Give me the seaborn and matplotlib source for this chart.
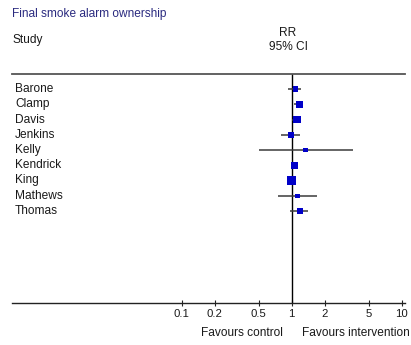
import matplotlib
matplotlib.use("Agg")
import matplotlib.pyplot as plt
import numpy as np
import pandas as pd
import seaborn as sns

# Study-level risk ratios for final smoke alarm ownership
studies = ["Barone", "Clamp", "Davis", "Jenkins", "Kelly",
           "Kendrick", "King", "Mathews", "Thomas"]
rr = [1.08, 1.17, 1.11, 0.99, 1.33, 1.06, 1.00, 1.13, 1.19]
ci_low = [0.92, 1.06, 1.00, 0.80, 0.50, 1.00, 0.97, 0.75, 0.97]
ci_high = [1.22, 1.26, 1.22, 1.20, 3.59, 1.12, 1.04, 1.70, 1.42]
weights = [8.6, 12.3, 16.8, 8.6, 5.5, 12.3, 21.9, 5.5, 8.6]

tick_values = [0.1, 0.2, 0.5, 1, 2, 5, 10]
tick_labels = ["0.1", "0.2", "0.5", "1", "2", "5", "10"]

df = pd.DataFrame({"study": studies, "rr": rr, "lo": ci_low,
                   "hi": ci_high, "weight": weights})
df["row"] = np.arange(len(df))

sns.set_theme(style="white")
plt.rcParams["font.family"] = ["Liberation Sans", "DejaVu Sans"]

FS = 8.6
TXT = "#1a1a1a"

W, H = 411, 345
fig = plt.figure(figsize=(W / 100, H / 100), dpi=100)
fig.patch.set_facecolor("white")

# forest panel: spans from the header rule down to the scale line
left_px, right_px = 12, 405
top_px, bottom_px = 73.7, 302.7
ax = fig.add_axes([left_px / W, (H - bottom_px) / H,
                   (right_px - left_px) / W, (bottom_px - top_px) / H])
ax.set_xscale("log")
decade = 110.0
x_one = 291.7
ax.set_xlim(10 ** ((left_px - x_one) / decade), 10 ** ((right_px - x_one) / decade))
row0, step = 89.0, 15.25
ax.set_ylim((bottom_px - row0) / step, -(row0 - top_px) / step)

# confidence intervals
ax.hlines(df["row"], df["lo"], df["hi"], color="#3a3a3a", lw=1.1, zorder=2)

# point estimates as squares with area proportional to weight
k = 1.85
sns.scatterplot(data=df, x="rr", y="row", size="weight", marker="s",
                sizes=(0, max(weights) * k), size_norm=(0, max(weights)),
                color="#0000c8", edgecolor="none", linewidth=0,
                legend=False, ax=ax, zorder=3)

# line of no effect
ax.axvline(1, color="black", lw=1.0, zorder=1)

for side in ["left", "right"]:
    ax.spines[side].set_visible(False)
ax.spines["top"].set_color("#555555")
ax.spines["top"].set_linewidth(1.3)
ax.spines["bottom"].set_color("#222222")
ax.spines["bottom"].set_linewidth(1.0)

ax.set_xticks(tick_values)
ax.set_xticklabels(tick_labels)
ax.xaxis.set_minor_locator(matplotlib.ticker.NullLocator())
ax.tick_params(axis="x", which="major", direction="inout", length=5,
               width=0.8, color="#222222", labelsize=8.2,
               labelcolor=TXT, pad=2, bottom=True)
ax.set_yticks([])
ax.set_xlabel("")
ax.set_ylabel("")
ax.set_facecolor("white")

# study names
for name, r in zip(studies, df["row"]):
    fig.text(15 / W, 1 - (row0 + r * step) / H, name, ha="left", va="center",
             fontsize=FS, color=TXT)

# header text
fig.text(12 / W, 1 - 13.5 / H, "Final smoke alarm ownership", ha="left",
         va="center", fontsize=FS, color="#2b2b80")
fig.text(12 / W, 1 - 40 / H, "Study", ha="left", va="center",
         fontsize=FS, color=TXT)
fig.text(288 / W, 1 - 33.5 / H, "RR", ha="center", va="center",
         fontsize=FS, color=TXT)
fig.text(288 / W, 1 - 47 / H, "95% CI", ha="center", va="center",
         fontsize=FS, color=TXT)

# direction labels under the scale
fig.text(283 / W, 1 - 333 / H, "Favours control", ha="right", va="center",
         fontsize=FS, color=TXT)
fig.text(302 / W, 1 - 333 / H, "Favours intervention", ha="left", va="center",
         fontsize=FS, color=TXT)

fig.savefig("out.png", dpi=100, facecolor="white")
